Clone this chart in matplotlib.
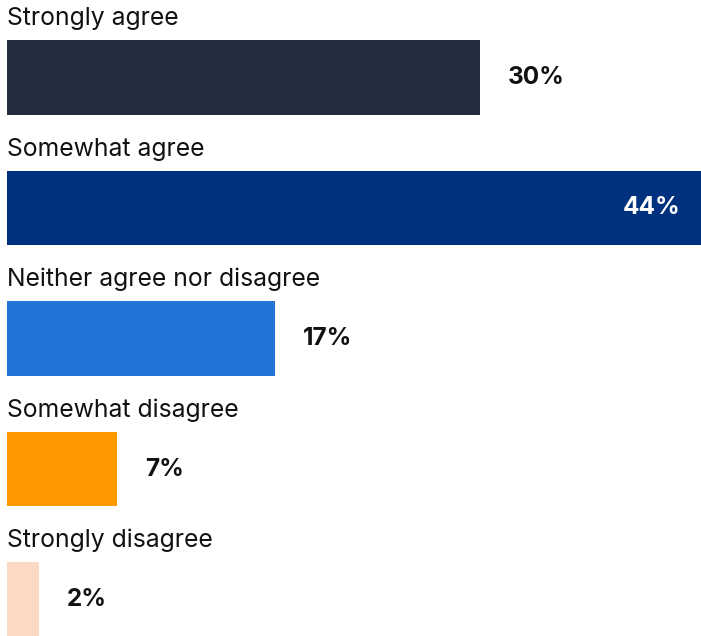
import matplotlib.pyplot as plt

categories = ['Strongly agree', 'Somewhat agree', 'Neither agree nor disagree',
              'Somewhat disagree', 'Strongly disagree']
values = [30, 44, 17, 7, 2]
colors = ['#232F3E', '#00317E', '#2275D7', '#FF9900', '#FCD9C2']

plt.rcParams['font.family'] = ['Inter', 'DejaVu Sans']

fig = plt.figure(figsize=(7.01, 6.36), dpi=100)
ax = fig.add_axes([7/701, 0, 694/701, 1])

pos = list(range(len(categories)))
ax.barh(pos, values, height=0.57, color=colors)

ax.set_xlim(0, max(values))
ax.set_ylim(4 + 36.5/130.5, -77.5/130.5)
ax.axis('off')

for i, (cat, v) in enumerate(zip(categories, values)):
    # category name sits above its bar
    ax.annotate(cat, (0, i - 0.285), xytext=(0, 10.8), textcoords='offset points',
                fontsize=17.8, color='#111111', va='baseline', ha='left',
                annotation_clip=False)
    if v == max(values):
        ax.annotate(f'{v}%', (v, i), xytext=(-15, 0), textcoords='offset points',
                    fontsize=17.5, fontweight='bold', color='white', va='center', ha='right')
    else:
        ax.annotate(f'{v}%', (v, i), xytext=(20, 0), textcoords='offset points',
                    fontsize=17.5, fontweight='bold', color='#111111', va='center', ha='left')

plt.savefig('out.png', dpi=100)
